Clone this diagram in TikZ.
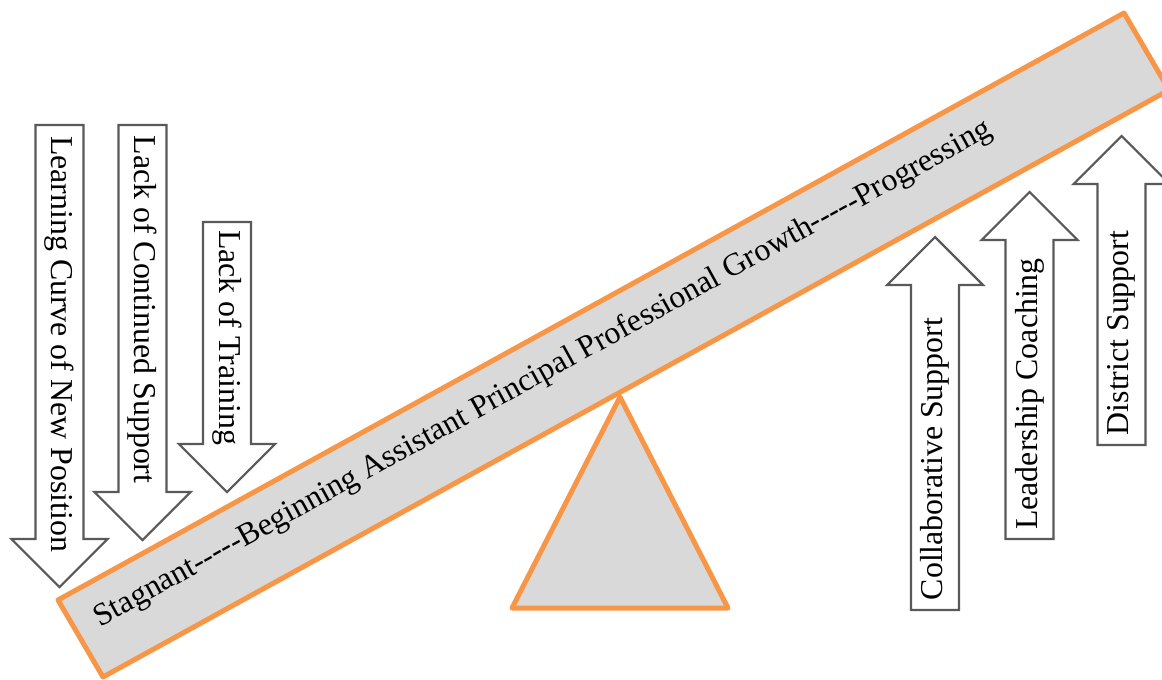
\documentclass[tikz,border=0pt]{standalone}
\usepackage{fontspec}
\setmainfont{Liberation Serif}
\usetikzlibrary{positioning}
\definecolor{plankorange}{HTML}{F79646}
\definecolor{plankgray}{HTML}{D9D9D9}
\definecolor{arrowgray}{HTML}{595959}
\newcommand{\hyphenrun}{-\kern0pt-\kern0pt-\kern0pt-\kern0pt-}
\tikzset{
    plank/.style = {draw=plankorange, fill=plankgray,
        line width=3.75pt, line join=round},
    fulcrum/.style = {draw=plankorange, fill=plankgray,
        line width=3.75pt, line join=round},
    fatarrow/.style = {draw=arrowgray, fill=white,
        line width=1.6pt, line join=miter},
    arrowtext/.style = {inner sep=0pt,
        font=\fontsize{23.9}{28}\selectfont},
}

\begin{document}
\begin{tikzpicture}[x=0.75pt, y=-0.75pt]
	\useasboundingbox (0,0) rectangle (1162,679);
	
	% down arrows (left)
	\draw [fatarrow] (35.5,125) -- (83.5,125) -- (83.5,539) -- (107.5,539) -- (59.5,587) -- (11.5,539) -- (35.5,539) -- cycle;
	\draw [fatarrow] (118.5,125) -- (166.5,125) -- (166.5,492) -- (190.5,492) -- (142.5,540) -- (94.5,492) -- (118.5,492) -- cycle;
	\draw [fatarrow] (203,222) -- (251,222) -- (251,444) -- (275,444) -- (227,492) -- (179,444) -- (203,444) -- cycle;
	\node [arrowtext, rotate=-90, name=learnCurve] at (59.5,344) {Learning Curve of New Position};
	\node [arrowtext, rotate=-90, name=lackSupport] at (142.5,309.5) {Lack of Continued Support};
	\node [arrowtext, rotate=-90, name=lackTraining] at (227,337.5) {Lack of Training};
	
	% up arrows (right)
	\draw [fatarrow] (911,610) -- (959,610) -- (959,285) -- (983,285) -- (935,237) -- (887,285) -- (911,285) -- cycle;
	\draw [fatarrow] (1005.5,539) -- (1053.5,539) -- (1053.5,240) -- (1077.5,240) -- (1029.5,192) -- (981.5,240) -- (1005.5,240) -- cycle;
	\draw [fatarrow] (1097.5,445) -- (1145.5,445) -- (1145.5,184) -- (1169.5,184) -- (1121.5,136) -- (1073.5,184) -- (1097.5,184) -- cycle;
	\node [arrowtext, rotate=90, name=collabSupport] at (935,459) {Collaborative Support};
	\node [arrowtext, rotate=90, name=leadCoaching] at (1029.5,394) {Leadership Coaching};
	\node [arrowtext, rotate=90, name=districtSupport] at (1121.5,333) {District Support};
	
	% plank
	\coordinate (plankTL) at (58,600);
	\coordinate (plankTR) at (1124,13);
	\coordinate (plankBR) at (1169,90);
	\coordinate (plankBL) at (103,677);
	\draw [plank] (plankTL) -- (plankTR) -- (plankBR) -- (plankBL) -- cycle;
	\node [arrowtext, rotate=28.88, name=growth] at (543,374) {Stagnant\hyphenrun Beginning Assistant Principal Professional Growth\hyphenrun Progressing};
	
	% fulcrum
	\coordinate (fulcrumTop) at (620,397);
	\coordinate (fulcrumR) at (728,608);
	\coordinate (fulcrumL) at (512,608);
	\draw [fulcrum] (fulcrumTop) -- (fulcrumR) -- (fulcrumL) -- cycle;
\end{tikzpicture}
\end{document}
